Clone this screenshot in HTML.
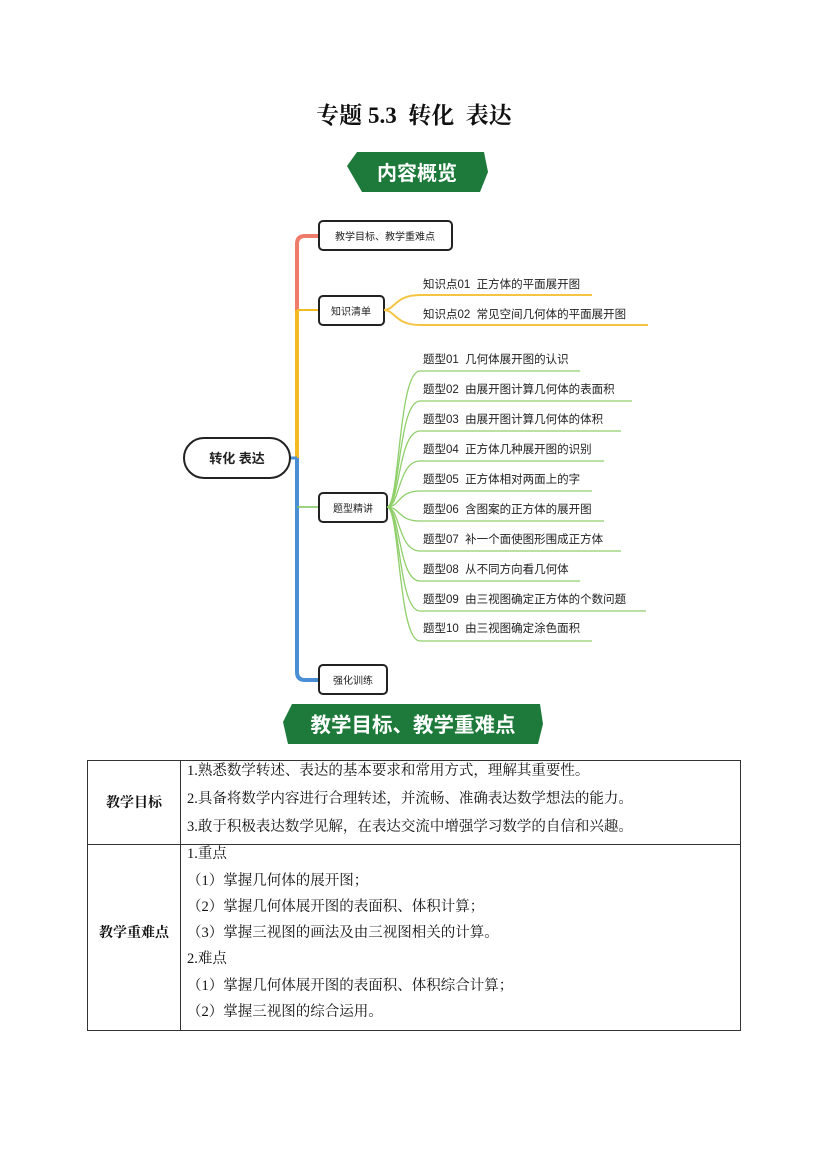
<!DOCTYPE html>
<html><head><meta charset="utf-8">
<style>
html,body{margin:0;padding:0;background:#fff;}
svg{display:block;}
text{white-space:pre;}
.s{font-family:"Liberation Sans","Noto Sans CJK SC",sans-serif;}
.r{font-family:"Liberation Serif","Noto Serif CJK SC",serif;}
</style></head><body>
<svg width="827" height="1169" viewBox="0 0 827 1169" xmlns="http://www.w3.org/2000/svg" xml:space="preserve">
<text x="414" y="123" text-anchor="middle" class="r" font-size="23" font-weight="bold" fill="#111">专题 5.3&#160;&#160;转化&#160;&#160;表达</text>

<polygon points="357,152 484,152 488,172 480,192 362,192 347,166" fill="#1e7a3a"/>
<text x="417" y="180" text-anchor="middle" class="s" font-size="20" font-weight="bold" fill="#fff">内容概览</text>

<path d="M297,310 L297,244 Q297,236 305,236 L319,236" stroke="#ef7b6b" stroke-width="4" fill="none"/>
<path d="M297,458 L297,310" stroke="#f5b921" stroke-width="4" fill="none"/>
<path d="M297,310 L319,310" stroke="#f5b921" stroke-width="2" fill="none"/>
<path d="M297,458 L297,672 Q297,680 305,680 L319,680" stroke="#4a8fd6" stroke-width="4" fill="none"/>
<path d="M297,507 L319,507" stroke="#7cc35a" stroke-width="1.5" fill="none"/>
<path d="M290,458 L297,458" stroke="#4a8fd6" stroke-width="3"/>

<rect x="184" y="438" width="106" height="40" rx="20" fill="#fff" stroke="#222" stroke-width="2"/>
<text x="237" y="463" text-anchor="middle" class="s" font-size="13" font-weight="bold" fill="#222">转化 表达</text>

<rect x="319" y="221" width="133" height="29" rx="4" fill="#fff" stroke="#222" stroke-width="2"/>
<text x="385" y="240" text-anchor="middle" class="s" font-size="10" fill="#222">教学目标、教学重难点</text>
<rect x="319" y="296" width="65" height="29" rx="4" fill="#fff" stroke="#222" stroke-width="2"/>
<text x="351" y="315" text-anchor="middle" class="s" font-size="10" fill="#222">知识清单</text>
<rect x="319" y="493" width="68" height="29" rx="4" fill="#fff" stroke="#222" stroke-width="2"/>
<text x="353" y="512" text-anchor="middle" class="s" font-size="10" fill="#222">题型精讲</text>
<rect x="319" y="665" width="68" height="29" rx="4" fill="#fff" stroke="#222" stroke-width="2"/>
<text x="353" y="684" text-anchor="middle" class="s" font-size="10" fill="#222">强化训练</text>

<g stroke="#f5c443" stroke-width="2" fill="none">
<path d="M384,310 C395,310 395,295 420,295 L592,295"/>
<path d="M384,310 C395,310 395,325 420,325 L648,325"/>
</g>
<g class="s" font-size="11.5" fill="#222">
<text x="423" y="288">知识点01&#160;&#160;正方体的平面展开图</text>
<text x="423" y="318">知识点02&#160;&#160;常见空间几何体的平面展开图</text>
</g>

<g stroke="#8fcf6a" stroke-width="1.3" fill="none">
<path d="M387,507 C400,507 398,371 420,371 L580,371"/>
<path d="M387,507 C400,507 398,401 420,401 L632,401"/>
<path d="M387,507 C400,507 398,431 420,431 L621,431"/>
<path d="M387,507 C400,507 398,461 420,461 L604,461"/>
<path d="M387,507 C400,507 398,491 420,491 L592,491"/>
<path d="M387,507 C400,507 398,521 420,521 L604,521"/>
<path d="M387,507 C400,507 398,551 420,551 L621,551"/>
<path d="M387,507 C400,507 398,581 420,581 L580,581"/>
<path d="M387,507 C400,507 398,611 420,611 L646,611"/>
<path d="M387,507 C400,507 398,641 420,641 L592,641"/>
</g>
<g class="s" font-size="11.5" fill="#222">
<text x="423" y="363">题型01&#160;&#160;几何体展开图的认识</text>
<text x="423" y="393">题型02&#160;&#160;由展开图计算几何体的表面积</text>
<text x="423" y="423">题型03&#160;&#160;由展开图计算几何体的体积</text>
<text x="423" y="453">题型04&#160;&#160;正方体几种展开图的识别</text>
<text x="423" y="483">题型05&#160;&#160;正方体相对两面上的字</text>
<text x="423" y="513">题型06&#160;&#160;含图案的正方体的展开图</text>
<text x="423" y="543">题型07&#160;&#160;补一个面使图形围成正方体</text>
<text x="423" y="573">题型08&#160;&#160;从不同方向看几何体</text>
<text x="423" y="603">题型09&#160;&#160;由三视图确定正方体的个数问题</text>
<text x="423" y="632">题型10&#160;&#160;由三视图确定涂色面积</text>
</g>

<polygon points="292,704 540,704 543,724 538,744 288,744 283,722" fill="#1e7a3a"/>
<text x="413" y="732" text-anchor="middle" class="s" font-size="20.5" font-weight="bold" fill="#fff">教学目标、教学重难点</text>

<g stroke="#333" stroke-width="1" fill="none">
<rect x="87.5" y="760.5" width="653" height="270"/>
<line x1="180.5" y1="760" x2="180.5" y2="1031"/>
<line x1="87" y1="844.5" x2="741" y2="844.5"/>
</g>
<g class="r" font-size="14.5" fill="#111">
<text x="134" y="807" text-anchor="middle" font-weight="bold" font-size="14">教学目标</text>
<text x="134" y="937" text-anchor="middle" font-weight="bold" font-size="14">教学重难点</text>
<text x="187" y="775">1.熟悉数学转述、表达的基本要求和常用方式，理解其重要性。</text>
<text x="187" y="803">2.具备将数学内容进行合理转述，并流畅、准确表达数学想法的能力。</text>
<text x="187" y="831">3.敢于积极表达数学见解，在表达交流中增强学习数学的自信和兴趣。</text>
<text x="187" y="858">1.重点</text>
<text x="187" y="885">（1）掌握几何体的展开图；</text>
<text x="187" y="911">（2）掌握几何体展开图的表面积、体积计算；</text>
<text x="187" y="937">（3）掌握三视图的画法及由三视图相关的计算。</text>
<text x="187" y="963">2.难点</text>
<text x="187" y="990">（1）掌握几何体展开图的表面积、体积综合计算；</text>
<text x="187" y="1016">（2）掌握三视图的综合运用。</text>
</g>
</svg>
</body></html>
